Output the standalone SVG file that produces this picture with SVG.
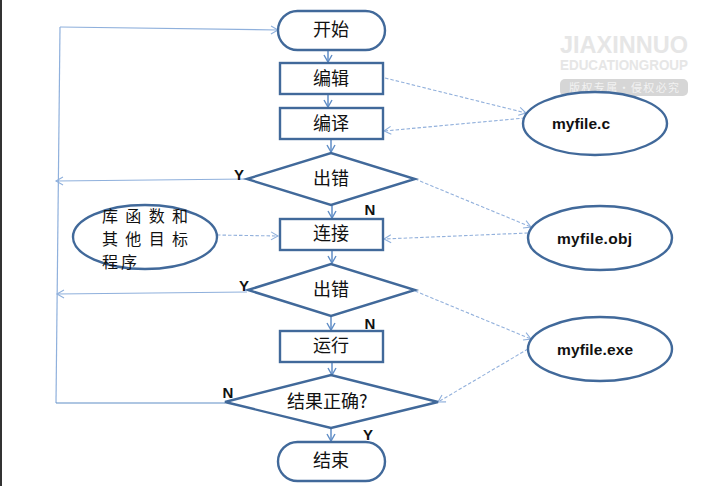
<svg xmlns="http://www.w3.org/2000/svg" width="715" height="486" viewBox="0 0 715 486">
<style>
.n{fill:#fff;stroke:#41699a;stroke-width:2.4}
.c{fill:none;stroke:#5f8dc6;stroke-width:1.5}
.l{fill:none;stroke:#8fb0dc;stroke-width:1.2}
.d{fill:none;stroke:#93b1dc;stroke-width:1.1;stroke-dasharray:3.5 2}
.t{font-family:"Noto Sans CJK SC","Liberation Sans",sans-serif;font-size:18px;fill:#111;text-anchor:middle}
.s{font-family:"Noto Sans CJK SC","Liberation Sans",sans-serif;font-size:16px;fill:#111;text-anchor:start}
.f{font-family:"Liberation Sans",sans-serif;font-size:15.5px;font-weight:bold;fill:#111;text-anchor:start}
.y{font-family:"Liberation Sans",sans-serif;font-size:15px;font-weight:bold;fill:#111;text-anchor:middle}
.w{font-family:"Liberation Sans",sans-serif;font-weight:bold;fill:#e6e6e6;text-anchor:middle}
</style>
<defs>
<marker id="a" markerWidth="10" markerHeight="10" refX="8" refY="5" orient="auto" markerUnits="userSpaceOnUse"><path d="M1,1 L8,5 L1,9" fill="none" stroke="#5f8dc6" stroke-width="1.4"/></marker>
<marker id="b" markerWidth="10" markerHeight="10" refX="8" refY="5" orient="auto" markerUnits="userSpaceOnUse"><path d="M1,1 L8,5 L1,9" fill="none" stroke="#8fb0dc" stroke-width="1.1"/></marker>
</defs>
<rect width="715" height="486" fill="#fff"/>
<rect x="0" y="0" width="2" height="486" fill="#333"/>
<g id="watermark">
<text class="w" x="624" y="53" font-size="24" textLength="128" lengthAdjust="spacingAndGlyphs">JIAXINNUO</text>
<text class="w" x="624" y="70" font-size="14.5" textLength="128" lengthAdjust="spacingAndGlyphs">EDUCATIONGROUP</text>
<rect x="560" y="79" width="128" height="17" rx="5" fill="#d6d6d6"/>
<text x="624" y="92" font-family="'Noto Sans CJK SC',sans-serif" font-size="11" fill="#f2f2f2" text-anchor="middle" textLength="110">版权专属·侵权必究</text>
</g>
<g id="connectors">
<path class="l" d="M60,27 L278,30" marker-end="url(#b)"/>
<path class="l" d="M60,27 L56,403"/>
<path class="l" d="M247,179 L56,181" marker-end="url(#b)"/>
<path class="l" d="M247,292 L57,294" marker-end="url(#b)"/>
<path class="c" d="M225,403 L56,403" style="stroke-width:1.2"/>
<path class="c" d="M328,50 V62" marker-end="url(#a)"/>
<path class="c" d="M328,94 V107" marker-end="url(#a)"/>
<path class="c" d="M331,139 V152" marker-end="url(#a)"/>
<path class="c" d="M332,205 V218" marker-end="url(#a)"/>
<path class="c" d="M332,250 V263" marker-end="url(#a)"/>
<path class="c" d="M331,316 V330" marker-end="url(#a)"/>
<path class="c" d="M332,362 V375" marker-end="url(#a)"/>
<path class="c" d="M331,428 V441" marker-end="url(#a)"/>
<path class="d" d="M385,78 L526,113" marker-end="url(#b)"/>
<path class="d" d="M525,118 L384,131" marker-end="url(#b)"/>
<path class="d" d="M415,179 L531,227" marker-end="url(#b)"/>
<path class="d" d="M528,233 L384,239" marker-end="url(#b)"/>
<path class="d" d="M415,291 L531,339" marker-end="url(#b)"/>
<path class="d" d="M528,349 L438,402" marker-end="url(#b)"/>
<path class="d" d="M217,235 L278,236" marker-end="url(#b)"/>
</g>
<g id="start"><rect class="n" x="278" y="11" width="107" height="39" rx="19.5"/><text class="t" x="331" y="36">开始</text></g>
<g id="edit"><rect class="n" x="280" y="63" width="103" height="31"/><text class="t" x="331" y="85">编辑</text></g>
<g id="compile"><rect class="n" x="280" y="108" width="103" height="31"/><text class="t" x="331" y="130">编译</text></g>
<g id="err1"><polygon class="n" points="247,179 331,153 415,179 331,205"/><text class="t" x="331" y="185">出错</text></g>
<g id="link"><rect class="n" x="280" y="219" width="103" height="31"/><text class="t" x="331" y="240">连接</text></g>
<g id="err2"><polygon class="n" points="248,290 331,264 415,290 331,316"/><text class="t" x="331" y="296">出错</text></g>
<g id="run"><rect class="n" x="280" y="331" width="103" height="31"/><text class="t" x="331" y="352">运行</text></g>
<g id="check"><polygon class="n" points="225,402 331,375 438,402 331,428"/><text class="t" x="287" y="408" style="text-anchor:start">结果正确?</text></g>
<g id="end"><rect class="n" x="278" y="442" width="107" height="39" rx="19.5"/><text class="t" x="331" y="467">结束</text></g>
<g id="lib"><ellipse class="n" cx="145" cy="237" rx="72" ry="32"/>
<text class="s" x="102" y="222" textLength="86">库函数和</text>
<text class="s" x="102" y="245" textLength="86">其他目标</text>
<text class="s" x="102" y="268" textLength="35">程序</text></g>
<g id="fc"><ellipse class="n" cx="595" cy="123.5" rx="72" ry="31.5"/><text class="f" x="552" y="129" textLength="58">myfile.c</text></g>
<g id="fobj"><ellipse class="n" cx="600" cy="238" rx="72" ry="32"/><text class="f" x="557" y="244" textLength="75">myfile.obj</text></g>
<g id="fexe"><ellipse class="n" cx="600" cy="349" rx="72" ry="32"/><text class="f" x="557" y="355" textLength="76">myfile.exe</text></g>
<g id="labels">
<text class="y" x="239" y="180">Y</text>
<text class="y" x="370" y="215">N</text>
<text class="y" x="244" y="291">Y</text>
<text class="y" x="370" y="329">N</text>
<text class="y" x="228" y="398">N</text>
<text class="y" x="368" y="440">Y</text>
</g>
</svg>
